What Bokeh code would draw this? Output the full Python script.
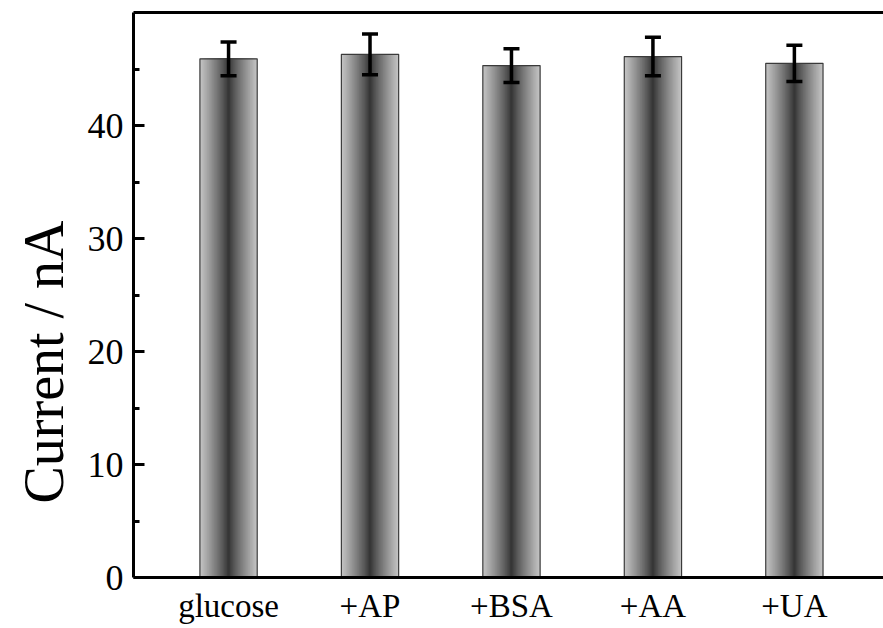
import numpy as np
from bokeh.plotting import figure
from bokeh.models import (Range1d, FixedTicker, LinearAxis, Whisker, ColumnDataSource,
                          TeeHead, Title)
from bokeh.embed import file_html
from bokeh.resources import INLINE

categories = ["glucose", "+AP", "+BSA", "+AA", "+UA"]
current = [45.9, 46.3, 45.3, 46.1, 45.5]
error = [1.5, 1.8, 1.5, 1.7, 1.6]
y_ticks = [0, 10, 20, 30, 40]
y_minor = [5, 15, 25, 35, 45]

xpos = list(range(1, len(categories) + 1))
FONT = "Liberation Serif"

p = figure(width=883, height=628, output_backend="svg", toolbar_location=None,
           x_range=Range1d(0.328, 5.63), y_range=Range1d(0, 50),
           min_border_left=133, min_border_right=0, min_border_top=12,
           min_border_bottom=51)
p.xgrid.visible = False
p.ygrid.visible = False
p.outline_line_color = None
p.background_fill_color = "white"
p.border_fill_color = "white"

# gradient bars: nested layers, lightest/widest first
N = 40
bar_w = 0.405
light, dark = 198, 50
for k in range(N):
    frac = 1 - k / N
    tmid = frac - 0.5 / N
    g = int(round(dark + (light - dark) * tmid ** 0.85))
    col = "#%02x%02x%02x" % (g, g, g)
    p.vbar(x=xpos, top=current, bottom=0, width=bar_w * frac,
           fill_color=col, line_color=None)
p.vbar(x=xpos, top=current, bottom=0, width=bar_w, fill_color=None,
       line_color="#3a3a3a", line_width=1.2)

src = ColumnDataSource(dict(x=xpos,
                            upper=[c + e for c, e in zip(current, error)],
                            lower=[c - e for c, e in zip(current, error)]))
w = Whisker(base="x", upper="upper", lower="lower", source=src,
            line_width=3.5, line_color="black", level="overlay",
            upper_head=TeeHead(size=16, line_width=3.5, line_color="black"),
            lower_head=TeeHead(size=16, line_width=3.5, line_color="black"))
p.add_layout(w)

# y axis
ya = p.yaxis[0]
ya.ticker = FixedTicker(ticks=y_ticks, minor_ticks=y_minor)
ya.axis_line_width = 3
ya.major_tick_line_width = 3
ya.minor_tick_line_width = 3
ya.major_tick_in = 11
ya.major_tick_out = 0
ya.minor_tick_in = 6
ya.minor_tick_out = 0
ya.major_label_text_font = FONT
ya.major_label_text_font_size = "36px"
ya.major_label_text_color = "black"
ya.major_label_standoff = 10

# x axis
xa = p.xaxis[0]
xa.ticker = FixedTicker(ticks=xpos)
xa.major_label_overrides = {x: c for x, c in zip(xpos, categories)}
xa.axis_line_width = 3
xa.major_tick_line_color = None
xa.minor_tick_line_color = None
xa.major_tick_in = 0
xa.major_tick_out = 0
xa.minor_tick_in = 0
xa.minor_tick_out = 0
xa.major_label_text_font = FONT
xa.major_label_text_font_size = "33px"
xa.major_label_text_color = "black"
xa.major_label_standoff = 10

# top frame line
top = LinearAxis(ticker=FixedTicker(ticks=[]), major_label_text_font_size="0px",
                 axis_line_width=3, major_tick_line_color=None,
                 minor_tick_line_color=None, major_tick_in=0, major_tick_out=0,
                 minor_tick_in=0, minor_tick_out=0)
p.add_layout(top, "above")

p.add_layout(Title(text="Current / nA", align="left", offset=74,
                   vertical_align="bottom",
                   text_font=FONT, text_font_size="56px", text_font_style="normal",
                   text_color="black", standoff=20), "left")

open("out.html", "w").write(file_html(p, INLINE))
